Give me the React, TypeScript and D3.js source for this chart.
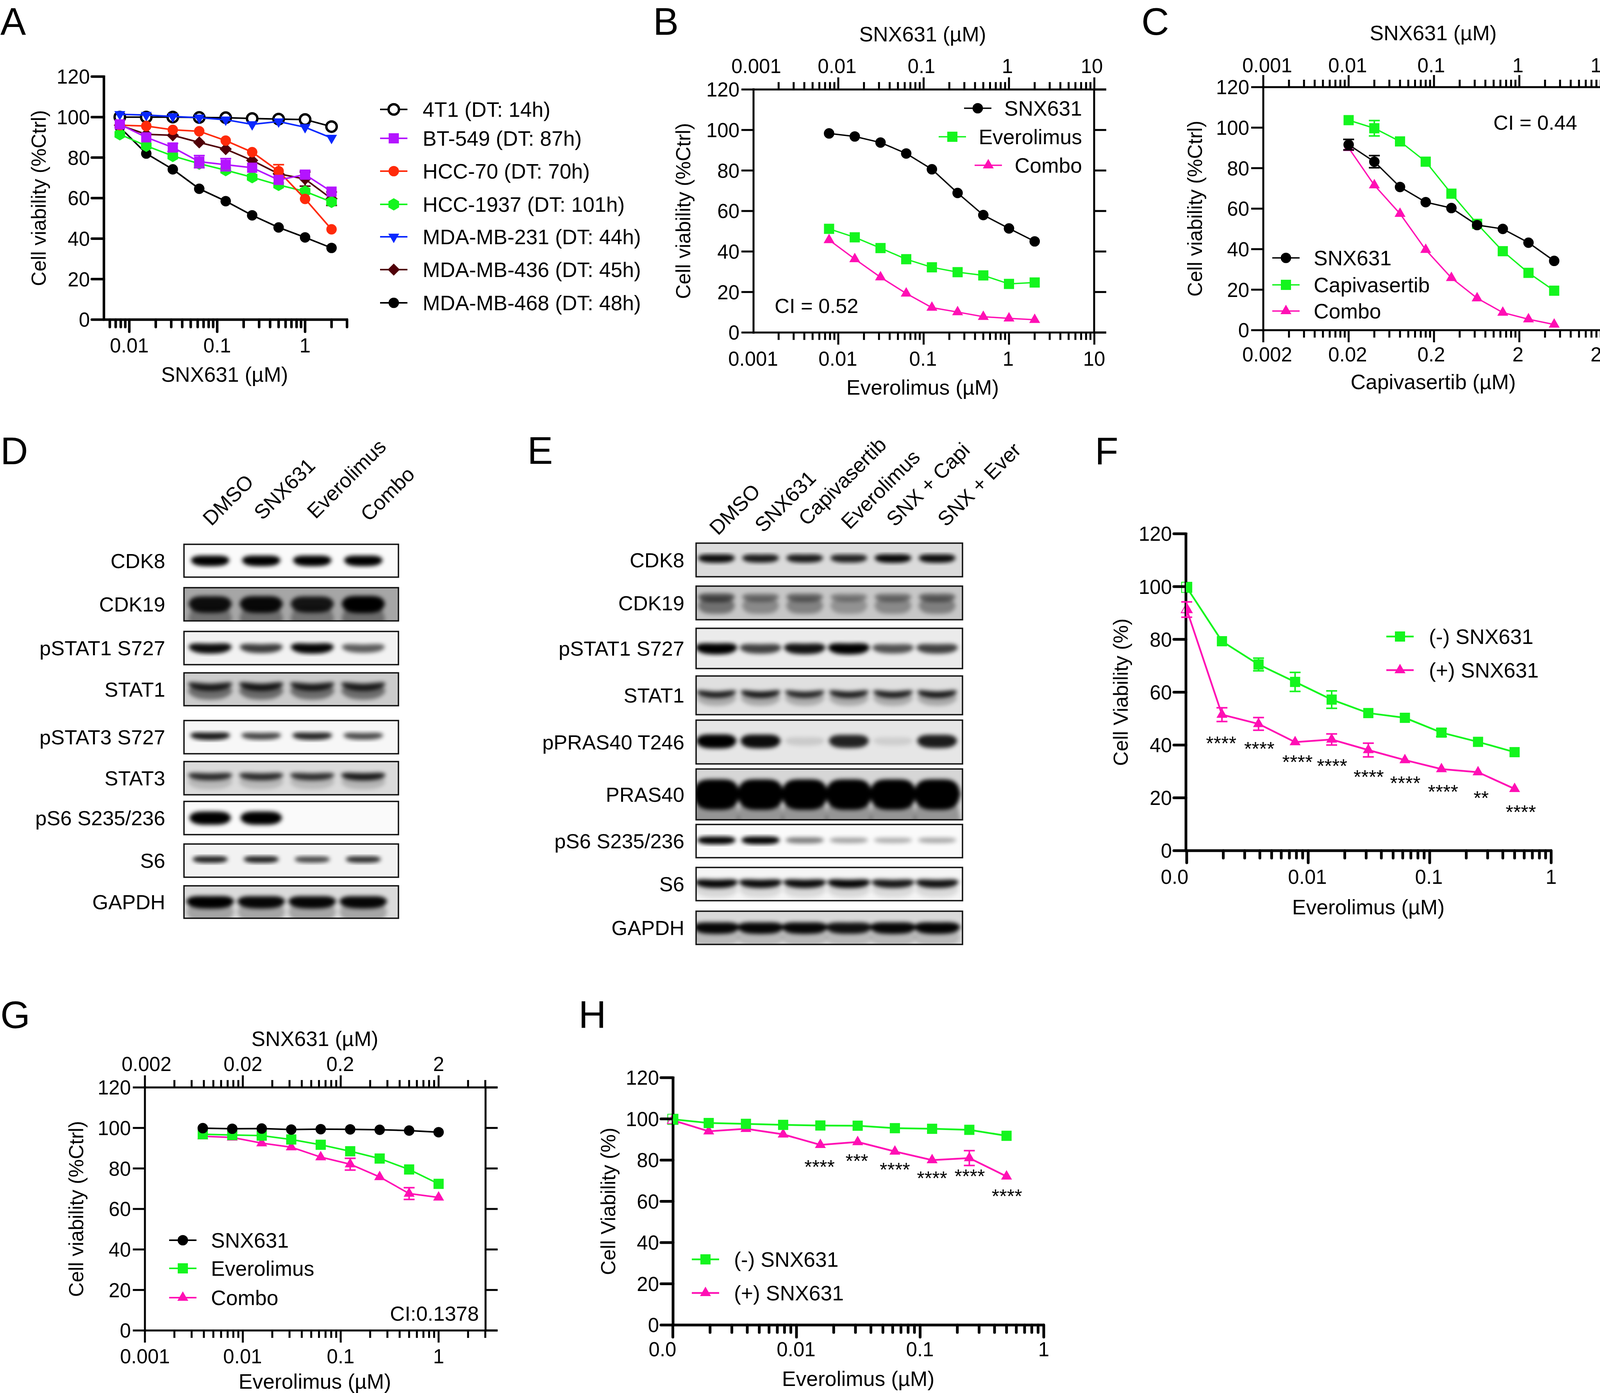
import * as React from "react";
import * as d3 from "d3";

// ---- data ----
const doses2 = [0.0078, 0.0156, 0.03125, 0.0625, 0.125, 0.25, 0.5, 1, 2];
const dosesCapi = [0.02, 0.04, 0.08, 0.16, 0.32, 0.64, 1.28, 2.56, 5.12];
const doses1 = [0.0039, 0.0078, 0.0156, 0.03125, 0.0625, 0.125, 0.25, 0.5, 1];
const dosesEver = [0.001, 0.00195, 0.0039, 0.0078, 0.0156, 0.03125, 0.0625, 0.125, 0.25, 0.5];

const a4T1 = [100, 100, 100, 99.8, 99.7, 99.3, 99, 98.8, 95.3];
const aBT549 = [96.4, 90, 85, 78, 76.5, 75, 69, 71.6, 63.2];
const aHCC70 = [96, 95.6, 93.7, 93, 88.4, 82.7, 73.3, 59.6, 44.6];
const aHCC1937 = [91.5, 85.8, 80.8, 77, 73.8, 70.3, 66.5, 63.3, 58.1];
const aMB231 = [101.4, 101, 100.3, 99.7, 98.7, 96.4, 97.8, 95, 89.7];
const aMB436 = [96, 91.5, 91, 87.5, 84.2, 78.6, 72, 69.4, 59.7];
const aMB468 = [95, 82, 74.2, 64.6, 58.5, 51.5, 45.5, 40.6, 35.4];
const aBT549Err = [0, 0, 2, 3, 3, 0, 0, 2, 0];
const aHCC70Err = [0, 0, 0, 0, 0, 0, 3.2, 0, 0];
const aMB436Err = [0, 0, 0, 0, 0, 0, 0, 3.5, 3.3];

const bSnx = [98.3, 96.8, 93.8, 88.4, 80.6, 68.9, 58, 51.4, 45];
const bEver = [51.2, 47, 41.7, 36.2, 32.2, 29.8, 28.2, 24, 24.7];
const bCombo = [45.7, 36.3, 27.3, 19.3, 12.3, 10.1, 7.8, 7, 6.3];

const cSnx = [91.6, 83.2, 70.7, 63.2, 60.3, 51.9, 50, 43.2, 34.2];
const cCapi = [103.7, 99.7, 93.2, 83.2, 67.4, 52.5, 39, 28.3, 19.5];
const cCombo = [90, 71.6, 57.5, 39.7, 25.8, 15.8, 8.7, 5.4, 2.8];
const cSnxErr = [2.6, 3, 0, 0, 0, 0, 0, 0, 0];
const cCapiErr = [0, 3.8, 0, 0, 0, 0, 0, 0, 0];

const gSnx = [99.9, 99.6, 99.7, 99.2, 99.4, 99.3, 99.1, 98.7, 97.9];
const gEver = [96.9, 96.5, 96.2, 94.3, 91.7, 88.5, 84.9, 79.5, 72.4];
const gCombo = [95.9, 95.3, 92.5, 90.5, 85.6, 82.1, 75.8, 67.6, 65.7];
const gComboErr = [0, 0, 0, 0, 0, 2.9, 0, 2.9, 0];

const fMinus = [99.7, 79.3, 70.5, 63.9, 57.2, 52.1, 50.3, 44.7, 41.2, 37.3];
const fPlus = [91.3, 51.5, 48, 41.1, 42.1, 38.1, 34.3, 30.9, 29.7, 23.4];
const fMinusErr = [0, 0, 2.4, 3.6, 3.3, 0, 0, 1.5, 0, 0];
const fPlusErr = [2.9, 2.6, 2.4, 0, 2.1, 2.6, 0, 0, 0, 0];
const fStars = ["****", "****", "****", "****", "****", "****", "****", "**", "****"];
const fStarLevels = [42.1, 40, 35, 33.5, 29.4, 27, 23.8, 21.4, 16];

const hMinus = [99.8, 98, 97.6, 97.1, 96.8, 96.7, 95.5, 95.2, 94.7, 91.8];
const hPlus = [99.3, 94, 95.2, 92.5, 87.4, 88.8, 84.2, 80, 81, 72.1];
const hPlusErr = [0, 0, 0, 0, 0, 0, 0, 0, 3.6, 0];
const hStars = ["****", "***", "****", "****", "****", "****"];
const hStarLevels = [78.6, 81.4, 77.2, 73, 74, 64.3];

const viabilityTicks = [0, 20, 40, 60, 80, 100, 120];
const decadeLabels = ["0.001", "0.01", "0.1", "1", "10"];
const decadeLabelsDouble = ["0.002", "0.02", "0.2", "2", "20"];

// blots: band strength per lane, 0 = nothing, 1 = black
const blotDLanes = ["DMSO", "SNX631", "Everolimus", "Combo"];
const blotDRows = ["CDK8", "CDK19", "pSTAT1 S727", "STAT1", "pSTAT3 S727", "STAT3", "pS6 S235/236", "S6", "GAPDH"];
const blotDLevels = [
  [1, 1, 1, 1],
  [0.92, 0.95, 0.88, 1],
  [0.95, 0.75, 0.98, 0.62],
  [0.85, 0.88, 0.85, 0.85],
  [0.9, 0.72, 0.85, 0.7],
  [0.8, 0.8, 0.78, 0.88],
  [1, 1, 0, 0],
  [0.88, 0.88, 0.72, 0.82],
  [1, 0.97, 0.97, 0.97],
];
const blotDUnder = [0, 0.35, 0, 0.55, 0, 0.2, 0, 0, 0.25];
const blotDBack = [0.02, 0.35, 0.05, 0.2, 0.03, 0.14, 0.02, 0.05, 0.14];

const blotELanes = ["DMSO", "SNX631", "Capivasertib", "Everolimus", "SNX + Capi", "SNX + Ever"];
const blotERows = ["CDK8", "CDK19", "pSTAT1 S727", "STAT1", "pPRAS40 T246", "PRAS40", "pS6 S235/236", "S6", "GAPDH"];
const blotELevels = [
  [0.95, 0.88, 0.88, 0.85, 0.97, 0.95],
  [0.62, 0.45, 0.5, 0.38, 0.45, 0.52],
  [1, 0.72, 0.92, 1, 0.65, 0.72],
  [0.85, 0.88, 0.82, 0.85, 0.85, 0.88],
  [1, 0.95, 0.12, 0.85, 0.1, 0.88],
  [1, 1, 1, 1, 1, 1],
  [1, 1, 0.5, 0.35, 0.3, 0.32],
  [0.97, 0.95, 0.95, 0.97, 0.9, 0.92],
  [0.97, 0.97, 0.97, 0.92, 0.97, 0.98],
];
const blotEUnder = [0, 0.7, 0, 0.28, 0, 0.3, 0, 0.12, 0.15];
const blotEBack = [0.14, 0.22, 0.08, 0.12, 0.1, 0.16, 0.02, 0.04, 0.15];

// ---- layout ----
const FONT = "'Liberation Sans', Arial, sans-serif";
const GREEN = "#14f51e";
const MAGENTA = "#ff0fb4";

const hexagon = {
  draw(ctx: any, size: number) {
    const r = Math.sqrt(size / 2.598);
    for (let i = 0; i < 6; i++) {
      const t = (Math.PI / 3) * i + Math.PI / 6;
      const px = r * Math.cos(t);
      const py = r * Math.sin(t);
      if (i === 0) ctx.moveTo(px, py);
      else ctx.lineTo(px, py);
    }
    ctx.closePath();
  },
};
const shapes: Record<string, { type: any; size: number; flip?: boolean }> = {
  circle: { type: d3.symbolCircle, size: 560 },
  square: { type: d3.symbolSquare, size: 680 },
  triangle: { type: d3.symbolTriangle, size: 340 },
  down: { type: d3.symbolTriangle, size: 340, flip: true },
  diamond: { type: d3.symbolDiamond2, size: 620 },
  hexagon: { type: hexagon, size: 640 },
};
const symbolPath = (shape: string) => d3.symbol().type(shapes[shape].type).size(shapes[shape].size)() ?? "";

function Marker({ x, y, shape, color, open }: { x: number; y: number; shape: string; color: string; open?: boolean }) {
  return (
    <path
      d={symbolPath(shape)}
      transform={`translate(${x},${y})${shapes[shape].flip ? " rotate(180)" : ""}`}
      fill={open ? "#fff" : color}
      stroke={open ? color : "none"}
      strokeWidth={open ? 6 : 0}
    />
  );
}

interface Series {
  name: string;
  values: number[];
  errors?: number[];
  color: string;
  shape: string;
  open?: boolean;
}

interface TickLabels {
  text: string[];
  at?: number[]; // pixel centres, when they sit off the ticks
}

interface PanelProps {
  id: string;
  doses: number[];
  series: Series[];
  drawOrder: number[];
  left: number;
  right: number;
  yTop: number;
  yBottom: number;
  // pixel position of the 0.01 and 1 doses
  x001: number;
  x1: number;
  tickBase?: number;
  boxed?: boolean;
  bottomLabels: TickLabels;
  topLabels?: TickLabels;
  xTitle: string;
  xTitleX: number;
  xTitleY: number;
  xLabelY: number;
  topTitle?: string;
  topTitleY?: number;
  topLabelY?: number;
  yTitle: string;
  yTitleX: number;
  legend: { x: number; y: number; textX?: number; textEnd?: number }[];
  note?: { text: string; x: number; y: number; anchor?: string };
  stars?: { text: string[]; levels: number[]; index: number[]; dx: number[] };
  hollowFirst?: boolean;
  lineWidth?: number;
  axisWidth?: number;
}

function Panel(p: PanelProps) {
  const x = d3.scaleLog().domain([0.01, 1]).range([p.x001, p.x1]);
  const y = d3.scaleLinear().domain([0, 120]).range([p.yBottom, p.yTop]);
  const base = p.tickBase ?? 0.001;
  const tickScale = d3.scaleLog().domain([0.001, 10]).range([x(base), x(base * 1e4)]);
  const xTicks = tickScale.ticks().filter((t) => tickScale(t) >= p.left - 1 && tickScale(t) <= p.right + 1);
  const isMajor = (t: number) => Math.abs(Math.log10(t) - Math.round(Math.log10(t))) < 1e-6;
  const lw = p.lineWidth ?? 4;
  const aw = p.axisWidth ?? 5;
  const cap = aw > 6 ? "round" : "butt";
  const line = d3
    .line<number>()
    .x((_, i) => x(p.doses[i]))
    .y((v) => y(v));
  const midY = (p.yTop + p.yBottom) / 2;
  const ordered = p.drawOrder.map((i) => p.series[i]);

  const tickMarks = (sign: number, at: number) =>
    xTicks.map((t) => (
      <line
        key={`${sign}${t}`}
        x1={tickScale(t)}
        x2={tickScale(t)}
        y1={at}
        y2={at + sign * (isMajor(t) ? 31 : 19)}
        stroke="#000"
        strokeWidth={aw}
        strokeLinecap={cap as any}
      />
    ));

  const tickText = (labels: TickLabels, ly: number | undefined) =>
    labels.text.map((s, i) => (
      <text
        key={s}
        x={labels.at ? labels.at[i] : tickScale(+decadeLabels[decadeLabels.length - labels.text.length + i])}
        y={ly}
        dy=".36em"
        textAnchor="middle"
        fontSize={51}
      >
        {s}
      </text>
    ));

  return (
    <g fontFamily={FONT} fill="#000">
      {p.hollowFirst && (
        <g>
          <clipPath id={`${p.id}-right`}>
            <rect x={p.left} y={p.yTop} width={p.right - p.left} height={p.yBottom - p.yTop} />
          </clipPath>
          {p.series.map((s) => (
            <path
              key={s.name}
              d={symbolPath(s.shape)}
              transform={`translate(${x(p.doses[0])},${y(s.values[0])})`}
              fill="#fff"
              stroke={s.color}
              strokeWidth={2.2}
            />
          ))}
        </g>
      )}

      {/* axes */}
      <line x1={p.left} x2={p.left} y1={p.yTop - 3} y2={p.yBottom + 3} stroke="#000" strokeWidth={aw} />
      <line x1={p.left - 2} x2={p.right + (p.boxed ? 31 : 2)} y1={p.yBottom} y2={p.yBottom} stroke="#000" strokeWidth={aw} />
      {p.boxed && (
        <>
          <line x1={p.right} x2={p.right} y1={p.yTop} y2={p.yBottom} stroke="#000" strokeWidth={aw} />
          <line x1={p.left - 2} x2={p.right + 31} y1={p.yTop} y2={p.yTop} stroke="#000" strokeWidth={aw} />
          {tickMarks(-1, p.yTop)}
        </>
      )}
      {tickMarks(1, p.yBottom)}
      {viabilityTicks.map((t) => (
        <g key={t}>
          <line x1={p.left - 31} x2={p.left} y1={y(t)} y2={y(t)} stroke="#000" strokeWidth={aw} strokeLinecap={cap as any} />
          {p.boxed && <line x1={p.right} x2={p.right + 31} y1={y(t)} y2={y(t)} stroke="#000" strokeWidth={aw} />}
          <text x={p.left - 36} y={y(t)} dy=".36em" textAnchor="end" fontSize={51}>
            {t}
          </text>
        </g>
      ))}
      {tickText(p.bottomLabels, p.xLabelY)}
      {p.topLabels && tickText(p.topLabels, p.topLabelY)}
      <text x={p.xTitleX} y={p.xTitleY} dy=".36em" textAnchor="middle" fontSize={53.5}>
        {p.xTitle}
      </text>
      {p.topTitle && (
        <text x={p.xTitleX} y={p.topTitleY} dy=".36em" textAnchor="middle" fontSize={53.5}>
          {p.topTitle}
        </text>
      )}
      <text transform={`translate(${p.yTitleX},${midY}) rotate(-90)`} dy=".36em" textAnchor="middle" fontSize={52}>
        {p.yTitle}
      </text>

      {/* series */}
      {ordered.map((s) => (
        <g key={s.name}>
          <path d={line(s.values) ?? ""} fill="none" stroke={s.color} strokeWidth={lw} />
          {s.errors?.map((e, i) =>
            e > 0 ? (
              <g key={i} stroke={s.color} strokeWidth={4} fill="none">
                <line x1={x(p.doses[i])} x2={x(p.doses[i])} y1={y(s.values[i] - e)} y2={y(s.values[i] + e)} />
                <line x1={x(p.doses[i]) - 14} x2={x(p.doses[i]) + 14} y1={y(s.values[i] + e)} y2={y(s.values[i] + e)} />
                <line x1={x(p.doses[i]) - 14} x2={x(p.doses[i]) + 14} y1={y(s.values[i] - e)} y2={y(s.values[i] - e)} />
              </g>
            ) : null,
          )}
          {s.values.map((v, i) => (
            <g key={i} clipPath={p.hollowFirst && i === 0 ? `url(#${p.id}-right)` : undefined}>
              <Marker x={x(p.doses[i])} y={y(v)} shape={s.shape} color={s.color} open={s.open} />
            </g>
          ))}
        </g>
      ))}

      {/* legend */}
      {p.series.map((s, i) => {
        const l = p.legend[i];
        return (
          <g key={s.name}>
            <line x1={l.x - 35} x2={l.x + 35} y1={l.y} y2={l.y} stroke={s.color} strokeWidth={lw} />
            <Marker x={l.x} y={l.y} shape={s.shape} color={s.color} open={s.open} />
            <text
              x={l.textEnd ?? l.textX}
              y={l.y}
              dy=".36em"
              textAnchor={l.textEnd ? "end" : "start"}
              fontSize={53.5}
            >
              {s.name}
            </text>
          </g>
        );
      })}

      {p.note && (
        <text x={p.note.x} y={p.note.y} dy=".36em" textAnchor={p.note.anchor ?? "start"} fontSize={52.5}>
          {p.note.text}
        </text>
      )}
      {p.stars?.text.map((t, i) => (
        <text
          key={i}
          x={x(p.doses[p.stars!.index[i]]) + p.stars!.dx[i]}
          y={y(p.stars!.levels[i])}
          dy=".55em"
          textAnchor="middle"
          fontSize={50}
        >
          {t}
        </text>
      ))}
    </g>
  );
}

interface BlotProps {
  id: string;
  lanes: string[];
  rows: string[];
  levels: number[][];
  under: number[];
  back: number[];
  tops: number[];
  bottoms: number[];
  thick: number[];
  halfWidth: number[];
  offset: number[];
  smile: number[];
  frameLeft: number;
  frameRight: number;
  firstLane: number;
  lastLane: number;
  labelRight: number;
  laneAnchors: [number, number][];
}

const bandSteps = d3.range(-1, 1.001, 0.1);

// one band: a capsule whose ends bend up a little, as they do on the film
function bandPath(cx: number, cy: number, halfW: number, th: number, smile: number) {
  const mid = (t: number) => cy - smile * (t * t - 0.3);
  const half = (t: number) => (th / 2) * Math.pow(Math.max(0, 1 - t * t * t * t), 0.6);
  return (
    d3
      .area<number>()
      .x((t) => cx + t * halfW)
      .y0((t) => mid(t) - half(t))
      .y1((t) => mid(t) + half(t))(bandSteps) ?? ""
  );
}

function Blot(p: BlotProps) {
  const laneX = d3.scalePoint<string>().domain(p.lanes).range([p.firstLane, p.lastLane]);
  const shade = d3.scaleLinear<string>().domain([0, 1]).range(["#ffffff", "#000000"]);
  return (
    <g fontFamily={FONT}>
      {p.lanes.map((l, i) => (
        <text
          key={l}
          transform={`translate(${p.laneAnchors[i][0]},${p.laneAnchors[i][1]}) rotate(-45)`}
          fontSize={52.5}
        >
          {l}
        </text>
      ))}
      {p.rows.map((r, ri) => {
        const top = p.tops[ri];
        const h = p.bottoms[ri] - top;
        const cy = top + h / 2 + p.offset[ri];
        const th = p.thick[ri];
        return (
          <g key={r}>
            <text x={p.labelRight} y={top + h / 2} dy=".36em" textAnchor="end" fontSize={52.5}>
              {r}
            </text>
            <clipPath id={`${p.id}-${ri}`}>
              <rect x={p.frameLeft} y={top} width={p.frameRight - p.frameLeft} height={h} />
            </clipPath>
            <rect x={p.frameLeft} y={top} width={p.frameRight - p.frameLeft} height={h} fill={shade(p.back[ri])} />
            <g clipPath={`url(#${p.id}-${ri})`}>
              <g filter="url(#bandBlur)">
                {p.lanes.map((l, li) => {
                  const v = p.levels[ri][li];
                  if (v <= 0) return null;
                  const cx = laneX(l) as number;
                  return (
                    <g key={l}>
                      {p.under[ri] > 0 && (
                        <path
                          d={bandPath(cx, cy + th * 0.85, p.halfWidth[ri], th * 1.5, p.smile[ri])}
                          fill="#000"
                          opacity={p.under[ri] * v}
                        />
                      )}
                      <path
                        d={bandPath(cx, cy, p.halfWidth[ri], th * (0.55 + 0.45 * v), p.smile[ri])}
                        fill="#000"
                        opacity={v}
                      />
                    </g>
                  );
                })}
              </g>
            </g>
            <rect
              x={p.frameLeft}
              y={top}
              width={p.frameRight - p.frameLeft}
              height={h}
              fill="none"
              stroke="#111"
              strokeWidth={3.5}
            />
          </g>
        );
      })}
    </g>
  );
}

const panelLetters: [string, number, number][] = [
  ["A", 1, 89],
  ["B", 1672, 89],
  ["C", 2922, 89],
  ["D", 1, 1188],
  ["E", 1350, 1187],
  ["F", 2803, 1188],
  ["G", 1, 2631],
  ["H", 1481, 2630],
];

export default function App() {
  return (
    <svg
      width={4137}
      height={3565}
      viewBox="0 0 4137 3565"
      style={{ position: "absolute", left: 0, top: 0, background: "#fff" }}
    >
      <defs>
        <filter id="bandBlur" x="-5%" y="-30%" width="110%" height="160%">
          <feGaussianBlur stdDeviation="5.5" />
        </filter>
      </defs>

      {panelLetters.map(([t, lx, ly]) => (
        <text key={t} x={lx} y={ly} fontFamily={FONT} fontSize={98}>
          {t}
        </text>
      ))}

      <Panel
        id="a"
        doses={doses2}
        series={[
          { name: "4T1 (DT: 14h)", values: a4T1, color: "#000", shape: "circle", open: true },
          { name: "BT-549 (DT: 87h)", values: aBT549, errors: aBT549Err, color: "#b414ff", shape: "square" },
          { name: "HCC-70 (DT: 70h)", values: aHCC70, errors: aHCC70Err, color: "#ff2a0a", shape: "circle" },
          { name: "HCC-1937 (DT: 101h)", values: aHCC1937, color: GREEN, shape: "hexagon" },
          { name: "MDA-MB-231 (DT: 44h)", values: aMB231, color: "#0a28ff", shape: "down" },
          { name: "MDA-MB-436 (DT: 45h)", values: aMB436, errors: aMB436Err, color: "#500008", shape: "diamond" },
          { name: "MDA-MB-468 (DT: 48h)", values: aMB468, color: "#000", shape: "circle" },
        ]}
        drawOrder={[0, 6, 5, 4, 3, 2, 1]}
        left={266}
        right={889}
        yTop={196}
        yBottom={818}
        x001={331}
        x1={781}
        axisWidth={6.5}
        bottomLabels={{ text: ["0.01", "0.1", "1"], at: [331, 556, 781] }}
        xTitle="SNX631 (µM)"
        xTitleX={575}
        xTitleY={958}
        xLabelY={884}
        yTitle="Cell viability (%Ctrl)"
        yTitleX={98}
        legend={[
          { x: 1008, y: 280, textX: 1082 },
          { x: 1008, y: 354, textX: 1082 },
          { x: 1008, y: 438, textX: 1082 },
          { x: 1008, y: 523, textX: 1082 },
          { x: 1008, y: 606, textX: 1082 },
          { x: 1008, y: 690, textX: 1082 },
          { x: 1008, y: 775, textX: 1082 },
        ]}
      />

      <Panel
        id="b"
        doses={doses2}
        series={[
          { name: "SNX631", values: bSnx, color: "#000", shape: "circle" },
          { name: "Everolimus", values: bEver, color: GREEN, shape: "square" },
          { name: "Combo", values: bCombo, color: MAGENTA, shape: "triangle" },
        ]}
        drawOrder={[2, 1, 0]}
        left={1929}
        right={2801}
        yTop={229}
        yBottom={851}
        x001={2146}
        x1={2583}
        boxed
        bottomLabels={{ text: decadeLabels, at: [1928, 2145, 2363, 2581, 2801] }}
        topLabels={{ text: decadeLabels, at: [1936, 2143, 2359, 2579, 2795] }}
        xTitle="Everolimus (µM)"
        xTitleX={2362}
        xTitleY={991}
        xLabelY={918}
        topTitle="SNX631 (µM)"
        topTitleY={87}
        topLabelY={169}
        yTitle="Cell viability (%Ctrl)"
        yTitleX={1748}
        legend={[
          { x: 2503, y: 277, textEnd: 2770 },
          { x: 2438, y: 350, textEnd: 2770 },
          { x: 2530, y: 423, textEnd: 2770 },
        ]}
        note={{ text: "CI = 0.52", x: 1983, y: 782 }}
        lineWidth={3.5}
      />

      <Panel
        id="c"
        doses={dosesCapi}
        series={[
          { name: "SNX631", values: cSnx, errors: cSnxErr, color: "#000", shape: "circle" },
          { name: "Capivasertib", values: cCapi, errors: cCapiErr, color: GREEN, shape: "square" },
          { name: "Combo", values: cCombo, color: MAGENTA, shape: "triangle" },
        ]}
        drawOrder={[2, 1, 0]}
        left={3234}
        right={4108}
        yTop={223}
        yBottom={845}
        x001={3234 + 218.5 * (1 - Math.log10(2))}
        x1={3234 + 218.5 * (3 - Math.log10(2))}
        tickBase={0.002}
        boxed
        bottomLabels={{ text: decadeLabelsDouble, at: [3244, 3450, 3664, 3886, 4100] }}
        topLabels={{ text: decadeLabels, at: [3244, 3450, 3664, 3886, 4100] }}
        xTitle="Capivasertib (µM)"
        xTitleX={3669}
        xTitleY={977}
        xLabelY={907}
        topTitle="SNX631 (µM)"
        topTitleY={84}
        topLabelY={167}
        yTitle="Cell viability (%Ctrl)"
        yTitleX={3058}
        legend={[
          { x: 3292, y: 660, textX: 3363 },
          { x: 3292, y: 729, textX: 3363 },
          { x: 3292, y: 796, textX: 3363 },
        ]}
        note={{ text: "CI = 0.44", x: 3823, y: 313 }}
        lineWidth={3.5}
      />

      <Blot
        id="d"
        lanes={blotDLanes}
        rows={blotDRows}
        levels={blotDLevels}
        under={blotDUnder}
        back={blotDBack}
        tops={[1393, 1504, 1616, 1722, 1844, 1949, 2051, 2160, 2267]}
        bottoms={[1477, 1589, 1701, 1806, 1929, 2034, 2136, 2245, 2350]}
        thick={[27, 44, 26, 20, 20, 20, 34, 18, 32]}
        halfWidth={[50, 56, 56, 58, 52, 58, 54, 46, 62]}
        offset={[0, 0, 0, -8, -3, -5, 0, -3, 0]}
        smile={[2, 2, 5, 9, 3, 5, 1, 1, 3]}
        frameLeft={471}
        frameRight={1020}
        firstLane={538}
        lastLane={930}
        labelRight={423}
        laneAnchors={[
          [541, 1348],
          [672, 1333],
          [808, 1330],
          [945, 1337],
        ]}
      />

      <Blot
        id="e"
        lanes={blotELanes}
        rows={blotERows}
        levels={blotELevels}
        under={blotEUnder}
        back={blotEBack}
        tops={[1390, 1500, 1608, 1730, 1843, 1968, 2110, 2220, 2332]}
        bottoms={[1476, 1586, 1711, 1829, 1955, 2098, 2195, 2305, 2417]}
        thick={[22, 26, 28, 18, 36, 78, 20, 22, 30]}
        halfWidth={[48, 48, 54, 52, 52, 60, 50, 56, 60]}
        offset={[-4, -14, 0, -4, -2, 0, -2, -2, 0]}
        smile={[2, 2, 4, 8, 2, 2, 1, 5, 3]}
        frameLeft={1782}
        frameRight={2464}
        firstLane={1834}
        lastLane={2399}
        labelRight={1752}
        laneAnchors={[
          [1838, 1372],
          [1954, 1365],
          [2066, 1348],
          [2175, 1357],
          [2291, 1350],
          [2422, 1350],
        ]}
      />

      <Panel
        id="f"
        doses={dosesEver}
        series={[
          { name: "(-) SNX631", values: fMinus, errors: fMinusErr, color: GREEN, shape: "square" },
          { name: "(+) SNX631", values: fPlus, errors: fPlusErr, color: MAGENTA, shape: "triangle" },
        ]}
        drawOrder={[1, 0]}
        left={3036}
        right={3971}
        yTop={1366}
        yBottom={2177}
        x001={3349}
        x1={3971}
        axisWidth={7}
        lineWidth={4.5}
        bottomLabels={{ text: ["0.0", "0.01", "0.1", "1"], at: [3007, 3347, 3658, 3971] }}
        xTitle="Everolimus (µM)"
        xTitleX={3503}
        xTitleY={2321}
        xLabelY={2244}
        yTitle="Cell Viability (%)"
        yTitleX={2868}
        legend={[
          { x: 3584, y: 1629, textX: 3658 },
          { x: 3584, y: 1715, textX: 3658 },
        ]}
        stars={{
          text: fStars,
          levels: fStarLevels,
          index: [1, 2, 3, 4, 5, 6, 7, 8, 9],
          dx: [-2, 2, 6, 1, 1, 1, 4, 8, 16],
        }}
        hollowFirst
      />

      <Panel
        id="g"
        doses={doses1}
        series={[
          { name: "SNX631", values: gSnx, color: "#000", shape: "circle" },
          { name: "Everolimus", values: gEver, color: GREEN, shape: "square" },
          { name: "Combo", values: gCombo, errors: gComboErr, color: MAGENTA, shape: "triangle" },
        ]}
        drawOrder={[2, 1, 0]}
        left={371}
        right={1243}
        yTop={2783}
        yBottom={3405}
        x001={371 + 250.6}
        x1={371 + 250.6 * 3}
        boxed
        bottomLabels={{ text: ["0.001", "0.01", "0.1", "1"], at: [371, 621, 872, 1123] }}
        xTitle="Everolimus (µM)"
        xTitleX={806}
        xTitleY={3535}
        xLabelY={3471}
        topTitle="SNX631 (µM)"
        topTitleY={2658}
        topLabelY={2723}
        topLabels={{ text: ["0.002", "0.02", "0.2", "2"], at: [375, 622, 871, 1123] }}
        yTitle="Cell viability (%Ctrl)"
        yTitleX={194}
        legend={[
          { x: 468, y: 3174, textX: 540 },
          { x: 468, y: 3246, textX: 540 },
          { x: 468, y: 3321, textX: 540 },
        ]}
        note={{ text: "CI:0.1378", x: 1226, y: 3361, anchor: "end" }}
      />

      <Panel
        id="h"
        doses={dosesEver}
        series={[
          { name: "(-) SNX631", values: hMinus, color: GREEN, shape: "square" },
          { name: "(+) SNX631", values: hPlus, errors: hPlusErr, color: MAGENTA, shape: "triangle" },
        ]}
        drawOrder={[1, 0]}
        left={1723}
        right={2672}
        yTop={2758}
        yBottom={3391}
        x001={2039}
        x1={2672}
        axisWidth={7}
        lineWidth={4.5}
        bottomLabels={{ text: ["0.0", "0.01", "0.1", "1"], at: [1696, 2038, 2355, 2672] }}
        xTitle="Everolimus (µM)"
        xTitleX={2197}
        xTitleY={3528}
        xLabelY={3453}
        yTitle="Cell Viability (%)"
        yTitleX={1556}
        legend={[
          { x: 1806, y: 3223, textX: 1879 },
          { x: 1806, y: 3309, textX: 1879 },
        ]}
        stars={{
          text: hStars,
          levels: hStarLevels,
          index: [4, 5, 6, 7, 8, 9],
          dx: [-2, -2, 0, 0, 1, 1],
        }}
        hollowFirst
      />
    </svg>
  );
}
